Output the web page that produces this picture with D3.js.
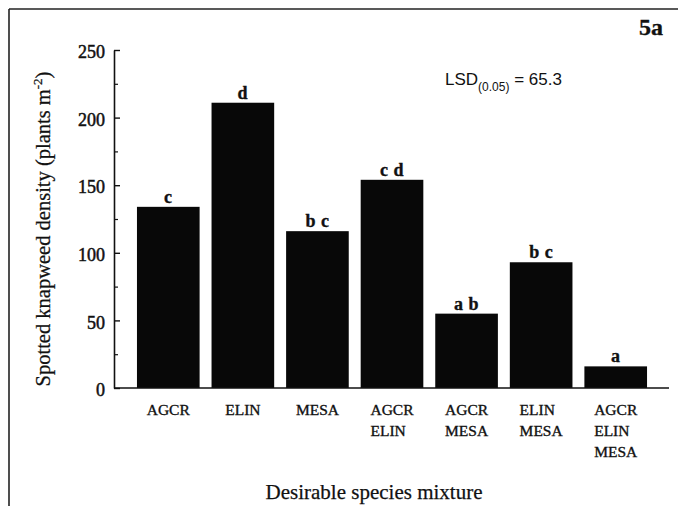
<!DOCTYPE html>
<html lang="en">
<head>
    <meta charset="UTF-8">
    <title>Spotted knapweed density by desirable species mixture</title>
    <script src="https://d3js.org/d3.v7.min.js"></script>
    <style>
        body {
            margin: 0;
            background-color: #ffffff;
        }

        svg {
            display: block;
        }

        .serif {
            font-family: 'Liberation Serif', 'Times New Roman', serif;
            fill: #111;
            stroke: #111;
            stroke-width: 0.35px;
        }

        .sans {
            font-family: 'Liberation Sans', Arial, sans-serif;
            fill: #111;
        }
    </style>
</head>
<body>
    <svg id="chart" width="678" height="506"></svg>

    <script>
        // data
        const mixtures = [
            ["AGCR"],
            ["ELIN"],
            ["MESA"],
            ["AGCR", "ELIN"],
            ["AGCR", "MESA"],
            ["ELIN", "MESA"],
            ["AGCR", "ELIN", "MESA"]
        ];
        const density = [134, 211, 116, 154, 55, 93, 16];
        const groupLetters = ["c", "d", "b c", "c d", "a b", "b c", "a"];
        const majorTicks = [0, 50, 100, 150, 200, 250];
        const minorTicks = [25, 75, 125, 175, 225];

        const svg = d3.select("#chart");
        const width = 678;
        const height = 506;

        const axisX = 114;
        const yScale = d3.scaleLinear().domain([0, 250]).range([388, 50]);
        const xScale = d3.scaleBand()
            .domain(mixtures.map((d, i) => i))
            .range([131, 653])
            .paddingInner(0.16)
            .paddingOuter(0.08);

        // frame (only top and left edges are visible in the scan)
        svg.append("line")
            .attr("x1", 9).attr("y1", 9).attr("x2", width).attr("y2", 9)
            .style("stroke", "#222").style("stroke-width", 1.6);
        svg.append("line")
            .attr("x1", 9).attr("y1", 9).attr("x2", 9).attr("y2", height)
            .style("stroke", "#222").style("stroke-width", 1.6);

        // bars
        svg.selectAll("rect.bar")
            .data(density)
            .enter()
            .append("rect")
            .attr("class", "bar")
            .attr("x", (d, i) => xScale(i))
            .attr("y", d => yScale(d))
            .attr("width", xScale.bandwidth())
            .attr("height", d => yScale(0) - yScale(d))
            .style("fill", "#080808");

        // significance letters
        svg.selectAll("text.letter")
            .data(density)
            .enter()
            .append("text")
            .attr("class", "serif letter")
            .attr("x", (d, i) => xScale(i) + xScale.bandwidth() / 2)
            .attr("y", d => yScale(d) - 4)
            .attr("text-anchor", "middle")
            .style("font-size", "18px")
            .style("font-weight", "bold")
            .style("letter-spacing", "0.5px")
            .text((d, i) => groupLetters[i]);

        // y axis, major ticks pointing inward
        const yAxis = svg.append("g")
            .attr("transform", `translate(${axisX},0)`)
            .call(d3.axisLeft(yScale)
                .tickValues(majorTicks)
                .tickSizeInner(-6)
                .tickSizeOuter(0)
                .tickPadding(9));
        yAxis.select(".domain").style("stroke", "#111").style("stroke-width", 1.6);
        yAxis.selectAll(".tick line").style("stroke", "#111").style("stroke-width", 1.4);
        yAxis.selectAll(".tick text")
            .attr("class", "serif")
            .attr("y", 2)
            .style("font-size", "18px")
            .style("font-family", "'Liberation Serif', 'Times New Roman', serif")
            .style("stroke-width", "0.5px");

        // minor ticks
        const yMinor = svg.append("g")
            .attr("transform", `translate(${axisX},0)`)
            .call(d3.axisLeft(yScale)
                .tickValues(minorTicks)
                .tickSizeInner(-4)
                .tickSizeOuter(0)
                .tickFormat(""));
        yMinor.select(".domain").remove();
        yMinor.selectAll(".tick line").style("stroke", "#111").style("stroke-width", 1.2);

        // x axis baseline
        svg.append("line")
            .attr("x1", axisX).attr("x2", 669)
            .attr("y1", yScale(0)).attr("y2", yScale(0))
            .style("stroke", "#111").style("stroke-width", 1.6);

        // category labels, lines left aligned as a block centred under the bar
        const labels = svg.selectAll("text.cat")
            .data(mixtures)
            .enter()
            .append("text")
            .attr("class", "serif cat")
            .style("font-size", "15.5px");

        labels.each(function(lines, i) {
            const t = d3.select(this);
            lines.forEach((line, j) => {
                t.append("tspan")
                    .attr("y", 415 + j * 21)
                    .text(line);
            });
            let maxW = 0;
            t.selectAll("tspan").each(function() {
                maxW = Math.max(maxW, this.getComputedTextLength());
            });
            const cx = xScale(i) + xScale.bandwidth() / 2;
            t.selectAll("tspan").attr("x", cx - maxW / 2);
        });

        // axis titles
        svg.append("text")
            .attr("class", "serif")
            .attr("x", 374)
            .attr("y", 499)
            .attr("text-anchor", "middle")
            .style("font-size", "21px")
            .style("stroke-width", "0.25px")
            .text("Desirable species mixture");

        const yTitle = svg.append("text")
            .attr("class", "serif")
            .attr("transform", "translate(50,229) rotate(-90)")
            .attr("text-anchor", "middle")
            .style("font-size", "20.5px")
            .style("stroke-width", "0.25px");
        yTitle.append("tspan").text("Spotted knapweed density (plants m");
        yTitle.append("tspan").attr("dy", -8).style("font-size", "13px").text("-2");
        yTitle.append("tspan").attr("dy", 8).text(")");

        // LSD annotation
        const lsd = svg.append("text")
            .attr("class", "sans")
            .attr("x", 445)
            .attr("y", 85)
            .style("font-size", "17px");
        lsd.append("tspan").text("LSD");
        lsd.append("tspan").attr("dy", 6).style("font-size", "12px").text("(0.05)");
        lsd.append("tspan").attr("dy", -6).text(" = 65.3");

        // panel tag
        svg.append("text")
            .attr("class", "serif")
            .attr("x", 663)
            .attr("y", 35)
            .attr("text-anchor", "end")
            .style("font-size", "24px")
            .style("font-weight", "bold")
            .text("5a");
    </script>
</body>
</html>
